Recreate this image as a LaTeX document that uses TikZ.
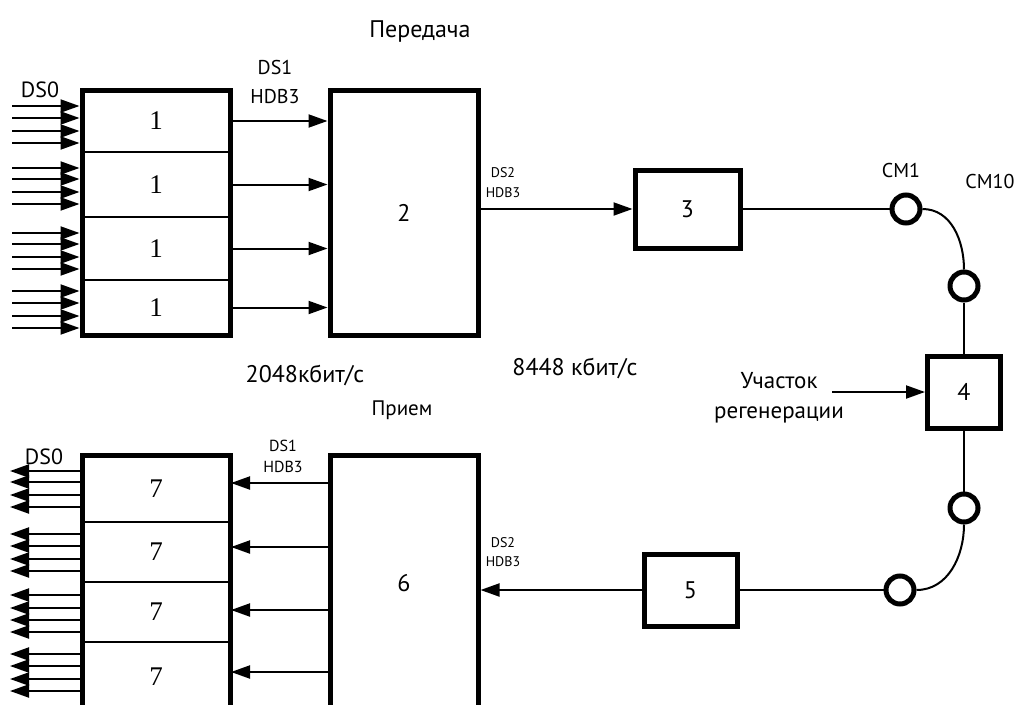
\documentclass[tikz,border=0pt]{standalone}
\usepackage{fontspec}
\setmainfont{PT Sans}
\newfontfamily\serifdig{Liberation Serif}
\usetikzlibrary{arrows.meta}

\begin{document}
\begin{tikzpicture}[x=1pt, y=-1pt,
  every node/.style={font=\fontsize{24}{26}\selectfont, inner sep=0pt},
  blk/.style={draw, rectangle, line width=5pt},
  sec/.style={draw, rectangle, line width=2pt, minimum width=148pt,
    font=\serifdig\fontsize{27}{29}\selectfont},
  ring/.style={draw, circle, line width=5pt, minimum size=28pt},
  sig/.style={line width=2pt, -{Triangle[length=19pt, width=13pt]}},
  wire/.style={line width=2pt}]

\clip (0,0) rectangle (1014,704);

% Transmit side
\node[sec, minimum height=62pt] (s1) at (156,121) {1};
\node[sec, minimum height=65pt] (s2) at (156,184.5) {1};
\node[sec, minimum height=63pt] (s3) at (156,248.5) {1};
\node[sec, minimum height=55pt] (s4) at (156,307.5) {1};
\node[blk, minimum width=148pt, minimum height=245pt] (b1) at (156,212.5) {};

\node[blk, minimum width=148pt, minimum height=245pt] (b2) at (404,212.5) {2};
\node[blk, minimum width=105pt, minimum height=78pt] (b3) at (687.5,209) {3};

\foreach \y in {106,118,131,143,168,179,192,204,233,244,257,269,291,303,316,328}
  \draw[sig] (12,\y) -- (12,\y -| b1.west);
\foreach \i in {1,...,4}
  \draw[sig] (s\i.east) -- (s\i.east -| b2.west);
\draw[sig] (b3.west -| b2.east) -- (b3.west);

% Line and regenerator
\node[ring] (c1) at (906,209) {};
\node[ring] (c2) at (964,286) {};
\node[blk, minimum width=73pt, minimum height=72pt] (b4) at (964,392) {4};
\node[ring] (c3) at (964,508) {};
\node[ring] (c4) at (900,590) {};

\draw[wire] (b3.east) -- (c1.west);
\draw[wire] (c1.east) to[out=0, in=90] (c2.north);
\draw[wire] (c2.south) -- (b4.north);
\draw[wire] (b4.south) -- (c3.north);
\draw[wire] (c3.south) to[out=-90, in=0] (c4.east);

\coordinate (rg) at (832,392);
\draw[sig] (rg) -- (b4.west);

% Receive side
\node[blk, minimum width=93pt, minimum height=72pt] (b5) at (690.5,590) {5};
\node[blk, minimum width=148pt, minimum height=257pt] (b6) at (404,583.5) {6};

\node[sec, minimum height=67pt] (r1) at (156,488.5) {7};
\node[sec, minimum height=60pt] (r2) at (156,552) {7};
\node[sec, minimum height=60pt] (r3) at (156,612) {7};
\node[sec, minimum height=70pt] (r4) at (156,677) {7};
\node[blk, minimum width=148pt, minimum height=257pt] (b7) at (156,583.5) {};

\draw[wire] (c4.west) -- (b5.east);
\draw[sig] (b5.west) -- (b5.west -| b6.east);
\foreach \i/\y in {1/483,2/547,3/610,4/672}
  \draw[sig] (b6.west |- 0,\y) -- (r\i.east |- 0,\y);
\foreach \y in {471,482,495,507,534,546,559,571,595,608,620,632,654,666,679,691}
  \draw[sig] (b7.west |- 0,\y) -- (10,\y);

% Labels
\node (tx) at (420,31) {Передача};
\node (rx) at (402,410) [font=\fontsize{21}{24}\selectfont] {Прием};
\node (v1) at (305,375) {2048кбит/с};
\node (v2) at (575,368) {8448 кбит/с};
\node (d0a) at (40,90) [font=\fontsize{22}{24}\selectfont] {DS0};
\node (d0b) at (44,457) [font=\fontsize{22}{24}\selectfont] {DS0};
\node (d1a) at (275,81.5) [align=center, font=\fontsize{20}{29}\selectfont] {DS1\\HDB3};
\node (d1b) at (283,456.5) [align=center, font=\fontsize{16}{21}\selectfont] {DS1\\HDB3};
\node (d2a) at (503,183) [align=center, font=\fontsize{14}{20}\selectfont] {DS2\\HDB3};
\node (d2b) at (503,552) [align=center, font=\fontsize{14}{19}\selectfont] {DS2\\HDB3};
\node (reg) at (779,398) [align=center, font=\fontsize{23}{30}\selectfont] {Участок\\регенерации};
\node (cm1) at (901,170) [font=\fontsize{20}{22}\selectfont] {СМ1};
\node (cm10) at (990,181) [font=\fontsize{20}{22}\selectfont] {СМ10};

\end{tikzpicture}
\end{document}
